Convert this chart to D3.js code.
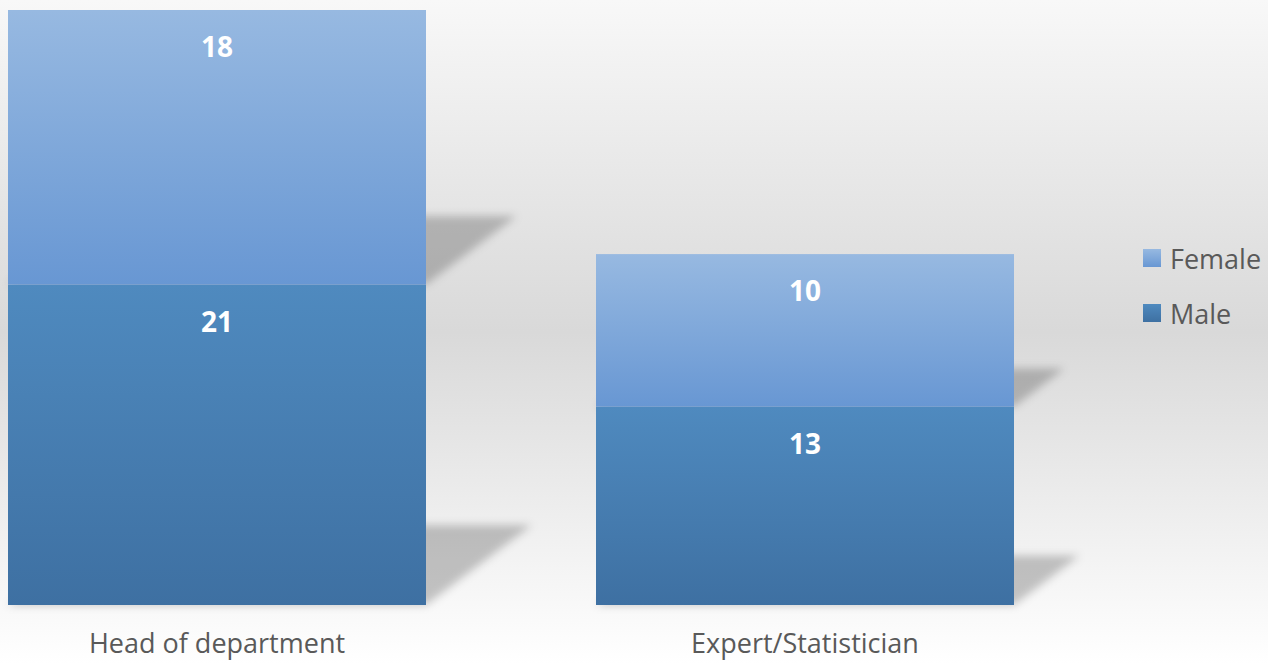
<!DOCTYPE html>
<html>
<head>
<meta charset="utf-8">
<script src="https://cdn.jsdelivr.net/npm/d3@7"></script>
<style>
  html, body { margin: 0; padding: 0; overflow: hidden; }
  svg { display: block; }
</style>
</head>
<body>
<svg id="chart" width="1268" height="664"></svg>
<script>
const categories = ["Head of department", "Expert/Statistician"];
const seriesNames = ["Male", "Female"];
const maleValues = [21, 13];
const femaleValues = [18, 10];
const legendOrder = ["Female", "Male"];

const W = 1268, H = 664;
const svg = d3.select("#chart");
const defs = svg.append("defs");
const font = "'Open Sans', 'Liberation Sans', sans-serif";

// background gradient
const bg = defs.append("linearGradient").attr("id", "bg").attr("x1", 0).attr("y1", 0).attr("x2", 0).attr("y2", 1);
bg.append("stop").attr("offset", "0").attr("stop-color", "#f8f8f8");
bg.append("stop").attr("offset", "0.5").attr("stop-color", "#d9d9d9");
bg.append("stop").attr("offset", "1").attr("stop-color", "#ffffff");
svg.append("rect").attr("width", W).attr("height", H).attr("fill", "url(#bg)");

// series gradients
const gradDefs = {
  Female: ["#97b9e1", "#6897d3"],
  Male: ["#4f8abf", "#3e70a2"]
};
Object.entries(gradDefs).forEach(([k, c]) => {
  const g = defs.append("linearGradient").attr("id", "g" + k).attr("x1", 0).attr("y1", 0).attr("x2", 0).attr("y2", 1);
  g.append("stop").attr("offset", "0").attr("stop-color", c[0]);
  g.append("stop").attr("offset", "1").attr("stop-color", c[1]);
});

const blur = defs.append("filter").attr("id", "blur").attr("x", "-20%").attr("y", "-20%").attr("width", "140%").attr("height", "140%");
blur.append("feGaussianBlur").attr("stdDeviation", 4);

const data = categories.map((c, i) => ({ cat: c, Male: maleValues[i], Female: femaleValues[i] }));
const stack = d3.stack().keys(seriesNames)(data);

const x = d3.scaleBand().domain(categories).range([8, 1014]).paddingInner(170 / 588).paddingOuter(0);
const y = d3.scaleLinear().domain([0, 39]).range([605, 10]);

// shadows
const shadowG = svg.append("g").attr("filter", "url(#blur)");
stack.forEach(s => {
  s.forEach(d => {
    const x0 = x(d.data.cat), x1 = x0 + x.bandwidth();
    const yT = y(d[1]), yB = y(d[0]);
    const h = yB - yT;
    const ys = yB - 0.25 * h, dx = 0.33 * h;
    shadowG.append("polygon")
      .attr("points", [[x0, yB], [x1, yB], [x1 + dx, ys], [x0 + dx, ys]].map(p => p.join(",")).join(" "))
      .attr("fill", "#000").attr("fill-opacity", 0.22);
  });
});

// bars
const barG = svg.append("g");
stack.forEach(s => {
  barG.selectAll(null).data(s).enter().append("rect")
    .attr("x", d => x(d.data.cat))
    .attr("y", d => y(d[1]))
    .attr("width", x.bandwidth())
    .attr("height", d => y(d[0]) - y(d[1]))
    .attr("fill", "url(#g" + s.key + ")");
  barG.selectAll(null).data(s).enter().append("text")
    .attr("x", d => x(d.data.cat) + x.bandwidth() / 2)
    .attr("y", d => y(d[1]) + 36)
    .attr("text-anchor", "middle")
    .attr("dominant-baseline", "central")
    .attr("font-family", font).attr("font-weight", "bold").attr("font-size", 28)
    .attr("fill", "#ffffff")
    .text(d => d[1] - d[0]);
});

// x axis (no line, no ticks)
const xAxis = svg.append("g").attr("transform", "translate(0,605)")
  .call(d3.axisBottom(x).tickSize(0).tickPadding(29));
xAxis.select(".domain").remove();
xAxis.selectAll("text").attr("font-family", font).attr("font-size", 27).attr("fill", "#595959");

// legend
const lg = svg.append("g");
legendOrder.forEach((k, i) => {
  const cy = 258 + i * 55;
  lg.append("rect").attr("x", 1143).attr("y", cy - 9).attr("width", 18).attr("height", 18).attr("fill", "url(#g" + k + ")");
  lg.append("text").attr("x", 1170).attr("y", cy).attr("dominant-baseline", "central")
    .attr("font-family", font).attr("font-size", 27).attr("fill", "#595959").text(k);
});
</script>
</body>
</html>
